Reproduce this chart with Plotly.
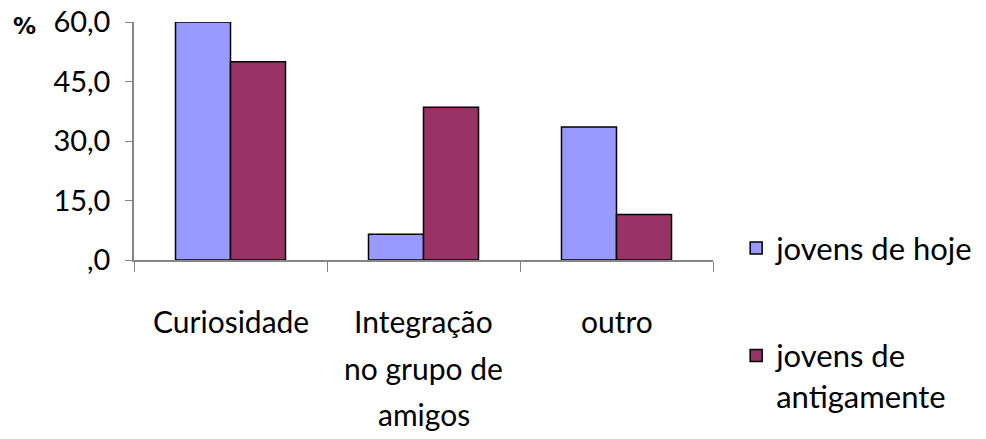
import plotly.graph_objects as go

categories = ["Curiosidade", "Integração", "outro"]
category_lines = [["Curiosidade"], ["Integração", "no grupo de", "amigos"], ["outro"]]
series_names = ["jovens de hoje", "jovens de<br>antigamente"]
hoje = [60.0, 6.5, 33.5]
antigamente = [50.0, 38.5, 11.5]
y_tickvals = [0, 15, 30, 45, 60]
y_ticktext = [",0", "15,0", "30,0", "45,0", "60,0"]

FONT = "Lato, sans-serif"
AXIS = "#868686"

fig = go.Figure()
fig.add_trace(go.Bar(x=categories, y=hoje, name=series_names[0], legendgroup="a",
                     marker=dict(color="#9999FF", line=dict(color="black", width=1.5))))
fig.add_trace(go.Bar(x=categories, y=antigamente, name=series_names[1], legendgroup="b",
                     marker=dict(color="#993366", line=dict(color="black", width=1.5))))

annotations = []
for cat, lines in zip(categories, category_lines):
    for i, line in enumerate(lines):
        annotations.append(dict(text=line, x=cat, y=0, xref="x", yref="y", yanchor="middle",
                                yshift=-61 - 46.5 * i, showarrow=False,
                                font=dict(size=30, family=FONT, color="black")))

fig.update_layout(
    width=986, height=439,
    margin=dict(l=134, r=273, t=22, b=179, autoexpand=False),
    paper_bgcolor="white", plot_bgcolor="white",
    barmode="group", bargap=0.43, bargroupgap=0,
    font=dict(family=FONT, size=28, color="black"),
    showlegend=True,
    legend=dict(x=1.04, y=0.162, xanchor="left", yanchor="top", valign="top",
                tracegroupgap=64, font=dict(size=31, family=FONT, color="black"),
                bgcolor="rgba(0,0,0,0)"),
    annotations=annotations,
)
fig.add_annotation(text="<b>%</b>", x=0, y=1, xref="paper", yref="paper",
                   xanchor="center", yanchor="middle",
                   xshift=-110, yshift=-4, showarrow=False,
                   font=dict(size=23, family="DejaVu Sans, sans-serif", color="black", weight="bold"))
fig.update_xaxes(showticklabels=False, showline=True, linecolor=AXIS, linewidth=1.5,
                 ticks="outside", tickson="boundaries", ticklen=10, tickcolor=AXIS,
                 showgrid=False, zeroline=False)
fig.update_yaxes(range=[0, 60], tickvals=y_tickvals, ticktext=y_ticktext,
                 showline=True, linecolor=AXIS, linewidth=1.5, ticks="outside",
                 ticklen=7, tickcolor=AXIS, showgrid=False, zeroline=False,
                 ticklabelstandoff=9, tickfont=dict(size=29, family=FONT, color="black"))

fig.write_html("out.html", config={"displayModeBar": False},
               post_script="document.body.style.margin='0';")
